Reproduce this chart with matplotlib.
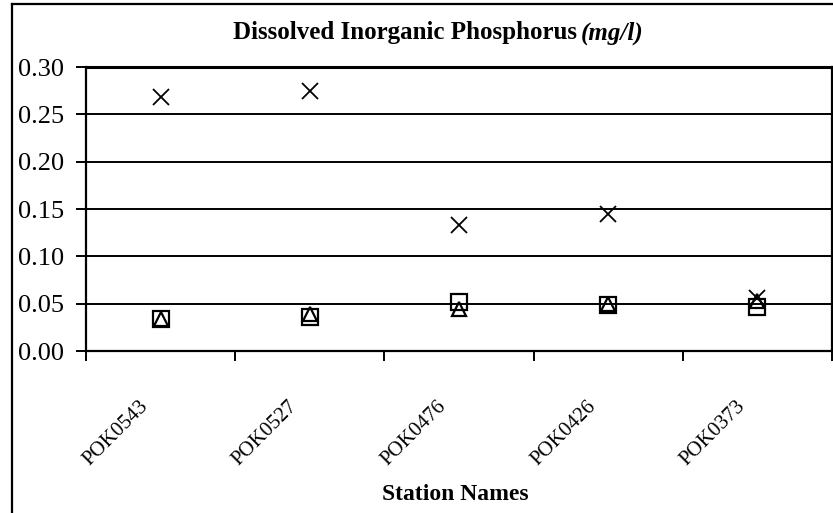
import matplotlib
matplotlib.use("Agg")
import matplotlib.pyplot as plt
from matplotlib.lines import Line2D
import matplotlib.transforms as mtransforms
import numpy as np

# Station data: dissolved inorganic phosphorus (mg/l)
stations = ["POK0543", "POK0527", "POK0476", "POK0426", "POK0373"]
series_cross = [0.268, 0.275, 0.133, 0.145, 0.056]
series_square = [0.034, 0.036, 0.052, 0.049, 0.046]
series_triangle = [0.034, 0.039, 0.044, 0.050, 0.053]
y_ticks = [0.00, 0.05, 0.10, 0.15, 0.20, 0.25, 0.30]

plt.rcParams["font.family"] = ["Liberation Serif", "DejaVu Serif"]

W, H = 833, 513
fig = plt.figure(figsize=(W / 100, H / 100), dpi=100)
ax = fig.add_axes([86 / W, 1 - 351 / H, (832 - 86) / W, (351 - 67) / H])

x = np.arange(len(stations))
ax.plot(x, series_square, linestyle="none", marker="s", markersize=11.5,
        markerfacecolor="none", markeredgecolor="black", markeredgewidth=1.6, zorder=3)
ax.plot(x, series_triangle, linestyle="none", marker="^", markersize=10,
        markerfacecolor="none", markeredgecolor="black", markeredgewidth=1.6, zorder=4)
ax.plot(x, series_cross, linestyle="none", marker="x", markersize=11,
        markeredgecolor="black", markeredgewidth=1.3, zorder=5)

ax.set_xlim(-0.5, len(stations) - 0.5)
ax.set_ylim(0, 0.30)

# horizontal gridlines
ax.set_yticks(y_ticks)
ax.set_yticklabels([f"{v:.2f}" for v in y_ticks], fontsize=19)
ax.yaxis.grid(True, color="black", linewidth=1.4)
ax.set_axisbelow(True)
ax.tick_params(axis="y", direction="out", length=7, width=1.4, pad=9, colors="black")

# category boundary ticks; station names drawn centred between them
ax.set_xticks(np.arange(len(stations) + 1) - 0.5)
ax.set_xticklabels([])
ax.tick_params(axis="x", which="major", direction="out", length=7, width=1.4)

label_tf = mtransforms.blended_transform_factory(ax.transData, ax.transAxes) + \
    mtransforms.ScaledTranslation(-22 / 100, -46 / 100, fig.dpi_scale_trans)
for xi, name in zip(x, stations):
    ax.text(xi, 0, name, transform=label_tf, rotation=45, ha="right", va="top",
            rotation_mode="anchor", fontsize=15)

for side in ["left", "right", "bottom"]:
    ax.spines[side].set_linewidth(1.6)
ax.spines["top"].set_linewidth(2.2)

# title: bold text followed by bold-italic unit
t1 = fig.text(233 / W, 1 - 33 / H, "Dissolved Inorganic Phosphorus", fontsize=18,
              fontweight="bold", ha="left", va="center")
fig.canvas.draw()
bb = t1.get_window_extent(renderer=fig.canvas.get_renderer())
fig.text((bb.x1 + 4) / W, 1 - 33 / H, "(mg/l)", fontsize=18, fontweight="bold",
         fontstyle="italic", ha="left", va="center")

ax.set_xlabel("Station Names", fontsize=17, fontweight="bold", labelpad=0)
ax.xaxis.set_label_coords((455 - 86) / (832 - 86), -(494 - 351) / (351 - 67))
ax.xaxis.label.set_va("center")

# outer chart frame (left and top edges)
fig.add_artist(Line2D([12 / W, 12 / W], [0, 1 - 4 / H], transform=fig.transFigure,
                      color="black", linewidth=1.6))
fig.add_artist(Line2D([12 / W, 1], [1 - 4 / H, 1 - 4 / H], transform=fig.transFigure,
                      color="black", linewidth=1.6))

fig.savefig("out.png", dpi=100)
